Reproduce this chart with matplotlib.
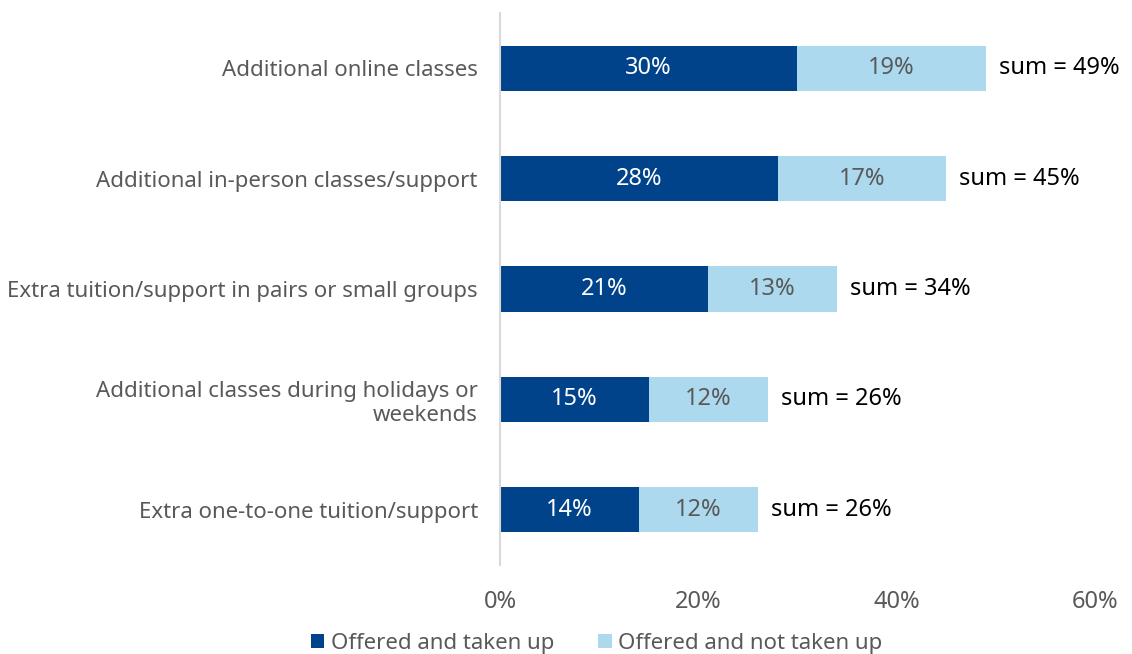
import numpy as np
import matplotlib.pyplot as plt

categories = [
    "Additional online classes",
    "Additional in-person classes/support",
    "Extra tuition/support in pairs or small groups",
    "Additional classes during holidays or\nweekends",
    "Extra one-to-one tuition/support",
]
taken_up = [30, 28, 21, 15, 14]
not_taken_up = [19, 17, 13, 12, 12]
sums = [49, 45, 34, 26, 26]
xticks = [0, 20, 40, 60]

dark_blue = "#00438a"
light_blue = "#add9ef"
grey_text = "#595959"

plt.rcParams['font.family'] = ['Noto Sans', 'DejaVu Sans']

fig = plt.figure(figsize=(11.32, 6.54), dpi=100)
ax = fig.add_axes([0.4417, 0.136, 0.5256, 0.844])

y = np.arange(len(categories))
h = 0.41
ax.barh(y, taken_up, height=h, color=dark_blue, label="Offered and taken up")
ax.barh(y, not_taken_up, left=taken_up, height=h, color=light_blue,
        label="Offered and not taken up")

for i in range(len(categories)):
    ax.text(taken_up[i] / 2, y[i], f"{taken_up[i]}%", ha='center', va='center',
            color='white', fontsize=17)
    ax.text(taken_up[i] + not_taken_up[i] / 2, y[i], f"{not_taken_up[i]}%",
            ha='center', va='center', color=grey_text, fontsize=17)
    ax.text(taken_up[i] + not_taken_up[i] + 1.3, y[i], f"sum = {sums[i]}%",
            ha='left', va='center', color='black', fontsize=17)

ax.set_xlim(0, 60)
ax.set_ylim(len(categories) - 0.5, -0.5)
ax.set_xticks(xticks)
ax.set_xticklabels([f"{t}%" for t in xticks], color=grey_text, fontsize=17)
ax.set_yticks(y)
ax.set_yticklabels(categories, color=grey_text, fontsize=16)
ax.tick_params(axis='x', length=0, pad=18)
ax.tick_params(axis='y', length=0, pad=16)
for s in ['top', 'right', 'bottom']:
    ax.spines[s].set_visible(False)
ax.spines['left'].set_color('#d9d9d9')
ax.spines['left'].set_linewidth(1.5)

leg = fig.legend(loc='lower center', bbox_to_anchor=(0.527, -0.03), ncol=2,
                 frameon=False, fontsize=16, handlelength=0.6, handleheight=0.6,
                 handletextpad=0.3, columnspacing=2.0)
for t in leg.get_texts():
    t.set_color(grey_text)

fig.savefig("out.png", dpi=100)
